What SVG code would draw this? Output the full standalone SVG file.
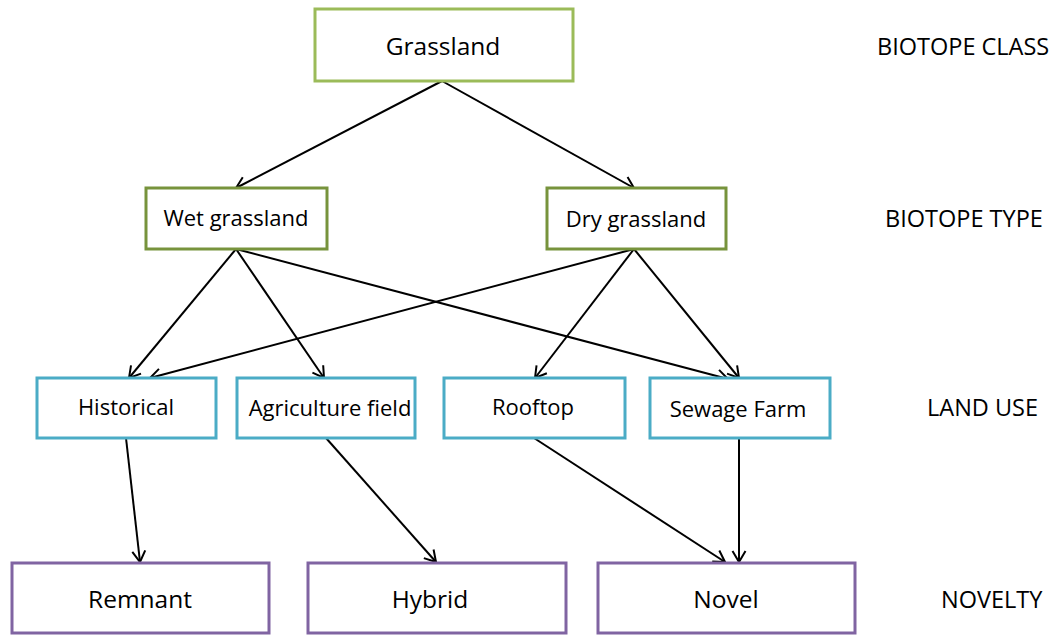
<svg xmlns="http://www.w3.org/2000/svg" width="1060" height="635" viewBox="0 0 1060 635">
<defs>
<marker id="arr" markerWidth="16" markerHeight="16" refX="13" refY="8" orient="auto" markerUnits="userSpaceOnUse">
<path d="M2,1.5 L13,8 L2,14.5" fill="none" stroke="#000" stroke-width="2"/>
</marker>
<style>
.t{font-family:"Open Sans","Liberation Sans",sans-serif;fill:#000;text-anchor:middle}
.lab{font-family:"Open Sans","Liberation Sans",sans-serif;fill:#000;font-size:23.5px}
.c1{fill:#fff;stroke:#9BBB59;stroke-width:3}
.c2{fill:#fff;stroke:#77933C;stroke-width:3}
.c3{fill:#fff;stroke:#4BACC6;stroke-width:3}
.c4{fill:#fff;stroke:#8064A2;stroke-width:3}
.e{stroke:#000;stroke-width:2;fill:none;marker-end:url(#arr)}
</style>
</defs>
<rect width="1060" height="635" fill="#fff"/>
<g id="connectors">
<line class="e" x1="442" y1="81" x2="236" y2="188"/>
<line class="e" x1="442" y1="81" x2="634" y2="188"/>
<line class="e" x1="236" y1="249" x2="129" y2="378"/>
<line class="e" x1="236" y1="249" x2="324" y2="378"/>
<line class="e" x1="236" y1="249" x2="728" y2="379"/>
<line class="e" x1="634" y1="249" x2="150" y2="378"/>
<line class="e" x1="634" y1="249" x2="535" y2="378"/>
<line class="e" x1="634" y1="249" x2="739" y2="378"/>
<line class="e" x1="126" y1="438" x2="140" y2="562"/>
<line class="e" x1="326" y1="438" x2="436" y2="562"/>
<line class="e" x1="534" y1="438" x2="725" y2="562"/>
<line class="e" x1="739" y1="438" x2="739" y2="562"/>
</g>
<g id="grassland"><rect class="c1" x="315" y="9" width="258" height="72"/><text class="t" x="443" y="55" font-size="24.5">Grassland</text></g>
<g id="wet"><rect class="c2" x="146" y="188" width="181" height="61"/><text class="t" x="236" y="226" font-size="22">Wet grassland</text></g>
<g id="dry"><rect class="c2" x="547" y="188" width="179" height="61"/><text class="t" x="636" y="227" font-size="22">Dry grassland</text></g>
<g id="historical"><rect class="c3" x="37" y="378" width="179" height="60"/><text class="t" x="126" y="415" font-size="22">Historical</text></g>
<g id="agriculture"><rect class="c3" x="237" y="378" width="178" height="60"/><text class="t" x="330" y="416" font-size="22">Agriculture field</text></g>
<g id="rooftop"><rect class="c3" x="444" y="378" width="181" height="60"/><text class="t" x="533" y="415" font-size="22">Rooftop</text></g>
<g id="sewage"><rect class="c3" x="650" y="378" width="180" height="60"/><text class="t" x="738" y="417" font-size="22">Sewage Farm</text></g>
<g id="remnant"><rect class="c4" x="12" y="563" width="257" height="70"/><text class="t" x="140" y="608" font-size="24.5">Remnant</text></g>
<g id="hybrid"><rect class="c4" x="308" y="563" width="258" height="70"/><text class="t" x="430" y="608" font-size="24.5">Hybrid</text></g>
<g id="novel"><rect class="c4" x="598" y="563" width="257" height="70"/><text class="t" x="726" y="608" font-size="24.5">Novel</text></g>
<g id="labels">
<text class="lab" x="877" y="55">BIOTOPE CLASS</text>
<text class="lab" x="885" y="227">BIOTOPE TYPE</text>
<text class="lab" x="927" y="416">LAND USE</text>
<text class="lab" x="941" y="608">NOVELTY</text>
</g>
</svg>
